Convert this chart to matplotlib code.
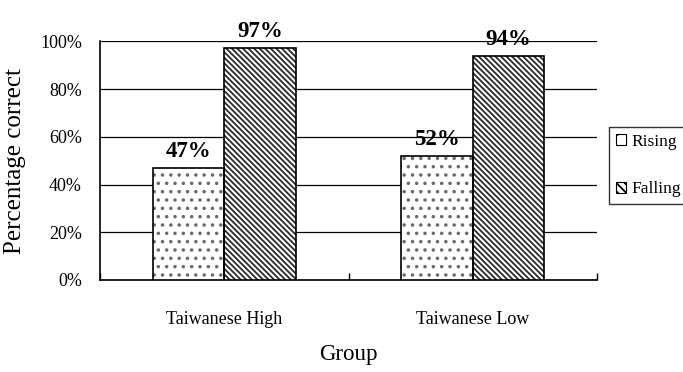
import matplotlib
matplotlib.use("Agg")
import matplotlib.pyplot as plt
from matplotlib.patches import Patch
import numpy as np

groups = ["Taiwanese High", "Taiwanese Low"]
rising = [47, 52]
falling = [97, 94]
yticks = [0, 20, 40, 60, 80, 100]

plt.rcParams["font.family"] = ["Liberation Serif", "DejaVu Serif"]
plt.rcParams["hatch.linewidth"] = 1.3

fig = plt.figure(figsize=(6.83, 3.72), dpi=100)
ax = fig.add_axes([100 / 683, 1 - 280 / 372, 497 / 683, (280 - 41.3) / 372])

x = np.arange(len(groups))
w = 0.288
# name, values, offset, bar hatch, legend hatch, hatch colour
styles = [("Rising", rising, -w / 2, "..", ".", "#6a6a6a"),
          ("Falling", falling, w / 2, "\\" * 6, "\\" * 4, "#2a2a2a")]

handles = []
for name, vals, off, hatch, leg_hatch, hcol in styles:
    # hatch fill drawn in its own colour, crisp black outline on top
    ax.bar(x + off, vals, w, facecolor="white", edgecolor=hcol,
           linewidth=0, hatch=hatch, zorder=3)
    bars = ax.bar(x + off, vals, w, fill=False, edgecolor="black",
                  linewidth=1.2, zorder=3.5)
    for r, v in zip(bars, vals):
        ax.text(r.get_x() + r.get_width() / 2, v + 2.5, f"{v}%", ha="center",
                va="bottom", fontsize=16.5, fontweight="bold", zorder=4)
    handles.append(Patch(facecolor="white", edgecolor="black", linewidth=0.8,
                         hatch=leg_hatch, label=name))

ax.set_xlim(-0.5, len(groups) - 0.5)
ax.set_ylim(0, 100)
ax.set_yticks(yticks)
ax.set_yticklabels([f"{t}%" for t in yticks], fontsize=13)
ax.tick_params(axis="y", length=0, pad=13)
ax.yaxis.grid(True, color="black", linewidth=0.9, zorder=0)
ax.set_axisbelow(True)

ax.set_xticks(x)
ax.set_xticklabels(groups, fontsize=13)
ax.set_xticks(np.arange(-0.5, len(groups)), minor=True)
ax.tick_params(axis="x", which="major", length=0, pad=22)
ax.tick_params(axis="x", which="minor", length=5, direction="in", width=1)

for s in ("top", "right"):
    ax.spines[s].set_visible(False)
ax.spines["left"].set_linewidth(1.2)
ax.spines["bottom"].set_linewidth(1.2)

ax.set_ylabel("Percentage correct", fontsize=18, labelpad=10)
ax.set_xlabel("Group", fontsize=16.5, labelpad=12)

leg = fig.legend(handles=handles, loc="upper left",
                 bbox_to_anchor=(609 / 683, 1 - 127 / 372), fontsize=12.5,
                 frameon=True, fancybox=False, handlelength=0.6,
                 handleheight=0.6, handletextpad=0.3, borderpad=0.4,
                 labelspacing=1.8, borderaxespad=0)
leg.get_frame().set_edgecolor("black")
leg.get_frame().set_linewidth(1.0)

fig.savefig("out.png", dpi=100)
